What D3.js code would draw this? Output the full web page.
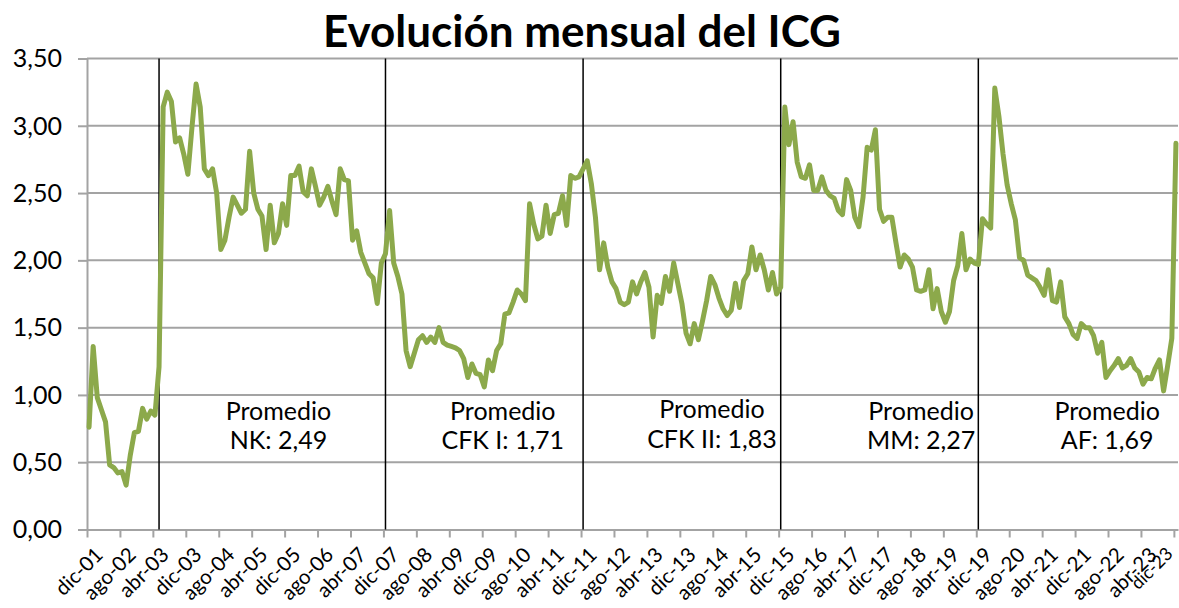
<!DOCTYPE html>
<html><head><meta charset="utf-8">
<script src="https://cdn.jsdelivr.net/npm/d3@7"></script>
<style>
body{margin:0;background:#fff;}
svg text{font-family:Lato,"Open Sans","Liberation Sans",sans-serif;fill:#000;}
</style>
</head><body>
<svg id="c" width="1179" height="608"></svg>
<script>
// ---- DATA ----
const mesesAbr = ["ene","feb","mar","abr","may","jun","jul","ago","sep","oct","nov","dic"];
const inicioAnio = 2001, inicioMes = 11; // dic-01

const serieDuhalde = [0.76,1.36,0.98,0.89,0.80,0.48,0.46,0.42,0.43,0.33,0.55,0.72,0.73,0.90,0.82,0.88,0.85];
const serieNK = [1.21,3.14,3.25,3.18,2.88,2.91,2.79,2.64,2.99,3.31,
  3.14,2.68,2.63,2.68,2.50,2.08,2.15,2.32,2.47,2.41,
  2.35,2.38,2.81,2.50,2.38,2.33,2.08,2.41,2.13,2.20,
  2.42,2.26,2.63,2.63,2.70,2.51,2.48,2.68,2.55,2.41,
  2.47,2.55,2.44,2.34,2.68,2.60,2.59,2.15,2.22,2.06,
  1.98,1.90,1.87,1.68,1.98];
const serieCFK1 = [2.05,2.37,1.98,1.88,1.75,1.33,1.21,1.31,1.41,1.44,
  1.39,1.43,1.39,1.50,1.39,1.37,1.36,1.35,1.33,1.27,
  1.13,1.23,1.16,1.15,1.06,1.26,1.18,1.33,1.38,1.60,
  1.61,1.69,1.78,1.75,1.70,2.42,2.27,2.16,2.18,2.41,
  2.20,2.34,2.35,2.48,2.26,2.63,2.61,2.62];
const serieCFK2 = [2.68,2.74,2.57,2.32,1.93,2.13,1.95,1.84,1.79,1.69,
  1.67,1.69,1.84,1.75,1.84,1.91,1.80,1.43,1.74,1.68,
  1.88,1.77,1.98,1.83,1.68,1.46,1.38,1.53,1.41,1.55,
  1.70,1.88,1.82,1.72,1.64,1.59,1.63,1.83,1.65,1.85,
  1.90,2.10,1.93,2.04,1.93,1.78,1.91,1.75];
const serieMM = [1.80,3.14,2.86,3.03,2.73,2.62,2.61,2.71,2.52,2.52,
  2.62,2.52,2.48,2.46,2.37,2.34,2.60,2.52,2.32,2.25,
  2.47,2.84,2.82,2.97,2.38,2.29,2.32,2.32,2.13,1.95,
  2.04,2.01,1.95,1.78,1.77,1.78,1.93,1.64,1.79,1.62,
  1.54,1.62,1.85,1.96,2.20,1.93,2.01,1.98];
const serieAF = [1.97,2.31,2.27,2.24,3.28,3.07,2.79,2.56,2.42,2.30,
  2.02,2.00,1.89,1.87,1.85,1.80,1.74,1.93,1.70,1.69,
  1.84,1.58,1.53,1.45,1.42,1.53,1.50,1.50,1.44,1.31,
  1.39,1.13,1.18,1.22,1.27,1.20,1.22,1.27,1.20,1.17,
  1.08,1.13,1.12,1.20,1.26,1.03,1.22,1.42,2.87];

const cambiosGobierno = ["may-03","dic-07","dic-11","dic-15","dic-19"];
const promedioNombres = ["NK","CFK I","CFK II","MM","AF"];
const promedioValores = [2.49,1.71,1.83,2.27,1.69];
const yTicks = [0,0.5,1,1.5,2,2.5,3,3.5];
const titulo = "Evolución mensual del ICG";

// ---- BUILD ----
const valores = [].concat(serieDuhalde, serieNK, serieCFK1, serieCFK2, serieMM, serieAF);
const categorias = valores.map((_, i) => {
  const t = inicioMes + i;
  return mesesAbr[t % 12] + "-" + String((inicioAnio + Math.floor(t / 12)) % 100).padStart(2, "0");
});
const N = categorias.length;
const xTickIdx = d3.range(0, N, 8);

// ---- LAYOUT ----
const L = 87, R = 1178, T = 58.5, B = 529.5;
const svg = d3.select("#c");
const x = d3.scaleLinear().domain([0, N]).range([L, R]);
const y = d3.scaleLinear().domain([0, 3.5]).range([B, T]);
const fmt = v => d3.format(".2f")(v).replace(".", ",");
const grid = "#a3a3a3";

// gridlines
svg.append("g").selectAll("line").data(yTicks.filter(v => v > 0)).join("line")
  .attr("x1", L).attr("x2", R).attr("y1", d => y(d)).attr("y2", d => y(d))
  .attr("stroke", grid).attr("stroke-width", 2);

// y axis
const yAxis = svg.append("g").attr("transform", `translate(${L},0)`)
  .call(d3.axisLeft(y).tickValues(yTicks).tickSize(9).tickFormat(""));
yAxis.selectAll("line,path").attr("stroke", grid).attr("stroke-width", 2);
svg.append("g").selectAll("text").data(yTicks).join("text")
  .attr("x", 62).attr("y", d => y(d)).attr("dy", "0.35em")
  .attr("text-anchor", "end").style("font-size", "25px").text(fmt);

// x axis
const xAxis = svg.append("g").attr("transform", `translate(0,${B})`)
  .call(d3.axisBottom(x).tickValues(xTickIdx).tickSize(8).tickFormat("").tickSizeOuter(0));
xAxis.selectAll("line,path").attr("stroke", grid).attr("stroke-width", 2);
const lastIdx = xTickIdx[xTickIdx.length - 1];
svg.append("g").selectAll("text").data(xTickIdx).join("text")
  .attr("transform", i => `translate(${i === lastIdx ? 1165 : x(i + 0.5) + 5},546) rotate(-45)`)
  .attr("text-anchor", "end").attr("dy", "0.7em")
  .style("font-size", i => i === lastIdx ? "18px" : "20.5px").text(i => categorias[i]);

// government change lines
svg.append("g").selectAll("line").data(cambiosGobierno).join("line")
  .attr("x1", c => x(categorias.indexOf(c) + 0.5)).attr("x2", c => x(categorias.indexOf(c) + 0.5))
  .attr("y1", y(3.5)).attr("y2", y(0))
  .attr("stroke", "#000").attr("stroke-width", 1.5);

// series
svg.append("path").datum(valores)
  .attr("fill", "none").attr("stroke", "#8CA94B").attr("stroke-width", 5)
  .attr("stroke-linejoin", "round").attr("stroke-linecap", "round")
  .attr("d", d3.line().x((d, i) => x(i + 0.5)).y(d => y(d)));

// annotations
const annIdx = [46.5, 101, 151.8, 202.6, 247.8];
const annY1 = [0.88, 0.88, 0.895, 0.88, 0.88];
const annY2 = [0.66, 0.66, 0.67, 0.66, 0.66];
const ann = svg.append("g");
promedioNombres.forEach((n, k) => {
  ann.append("text").attr("x", x(annIdx[k])).attr("y", y(annY1[k])).attr("dy", "0.35em")
    .attr("text-anchor", "middle").style("font-size", "25px").text("Promedio");
  ann.append("text").attr("x", x(annIdx[k])).attr("y", y(annY2[k])).attr("dy", "0.35em")
    .attr("text-anchor", "middle").style("font-size", "25px")
    .text(n + ": " + fmt(promedioValores[k]));
});

// title
svg.append("text").attr("x", 582).attr("y", 47).attr("text-anchor", "middle")
  .style("font-size", "44px").style("font-weight", "bold").text(titulo);
</script>
</body></html>
